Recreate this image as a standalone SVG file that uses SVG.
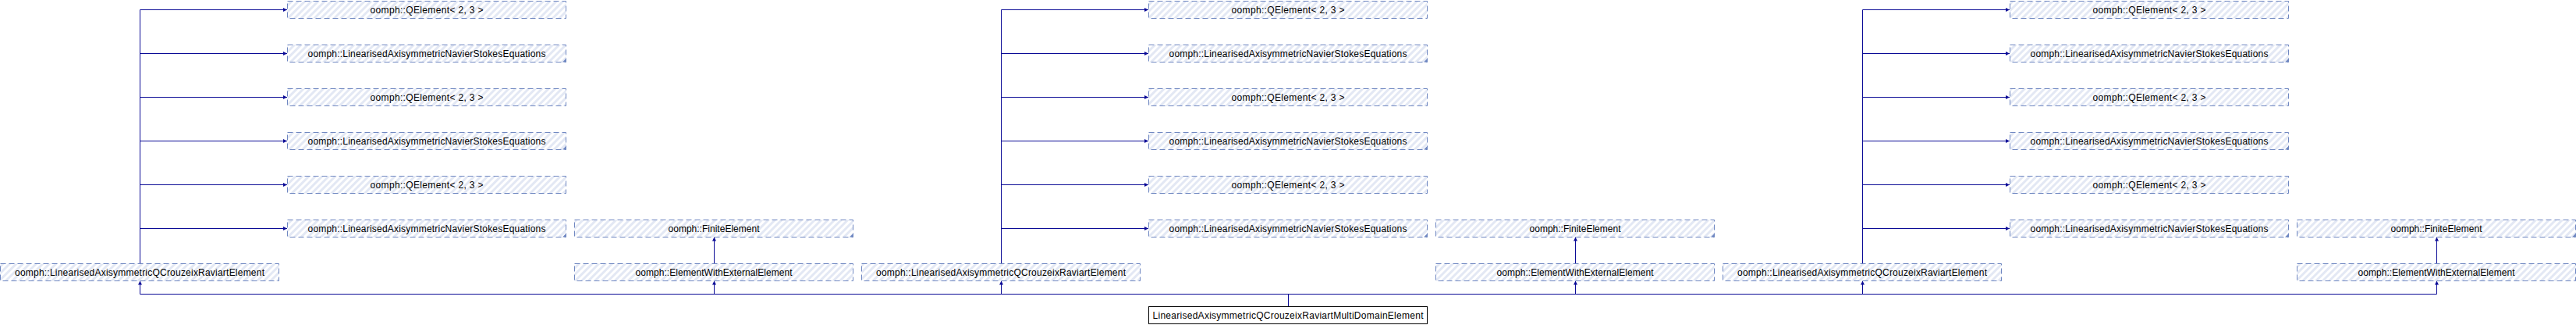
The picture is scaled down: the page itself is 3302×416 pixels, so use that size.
<svg xmlns="http://www.w3.org/2000/svg" width="3302" height="416" viewBox="0 0 3302 416">
<defs>
<pattern id="hatch" patternUnits="userSpaceOnUse" width="6" height="6" patternTransform="rotate(45)">
<rect x="0" y="0" width="6" height="6" fill="#ffffff"/>
<rect x="0" y="0" width="3" height="6" fill="#e3e8f4"/>
</pattern>
<marker id="arr" markerUnits="userSpaceOnUse" markerWidth="6" markerHeight="6" refX="5" refY="2.5" orient="auto">
<path d="M0,0 L5,2.5 L0,5 Z" fill="#0b0b96"/>
</marker>
</defs>
<style>
.n rect{fill:url(#hatch);stroke:#6f87c1;stroke-width:1;stroke-dasharray:7,4}
.n polygon{fill:#6f87c1}
.m rect{fill:#ffffff;stroke:#000000;stroke-width:1}
text{font-family:"Liberation Sans",Arial,Helvetica,sans-serif;font-size:12px;fill:#000000;text-anchor:middle}
.e path{fill:none;stroke:#0b0b96;stroke-width:1;marker-end:url(#arr)}
.e path.p{marker-end:none}
</style>
<g id="edges" class="e">
<path d="M179.5,337 V12.5 H368"/>
<path d="M179.5,337 V68.5 H368"/>
<path d="M179.5,337 V124.5 H368"/>
<path d="M179.5,337 V180.5 H368"/>
<path d="M179.5,337 V236.5 H368"/>
<path d="M179.5,337 V292.5 H368"/>
<path d="M1283.5,337 V12.5 H1472"/>
<path d="M1283.5,337 V68.5 H1472"/>
<path d="M1283.5,337 V124.5 H1472"/>
<path d="M1283.5,337 V180.5 H1472"/>
<path d="M1283.5,337 V236.5 H1472"/>
<path d="M1283.5,337 V292.5 H1472"/>
<path d="M2387.5,337 V12.5 H2576"/>
<path d="M2387.5,337 V68.5 H2576"/>
<path d="M2387.5,337 V124.5 H2576"/>
<path d="M2387.5,337 V180.5 H2576"/>
<path d="M2387.5,337 V236.5 H2576"/>
<path d="M2387.5,337 V292.5 H2576"/>
<path d="M915.5,337 V303.5"/>
<path d="M2019.5,337 V303.5"/>
<path d="M3123.5,337 V303.5"/>
<path d="M1651.5,392.5 V376.5 H179.5 V359.5"/>
<path d="M1651.5,392.5 V376.5 H915.5 V359.5"/>
<path d="M1651.5,392.5 V376.5 H1283.5 V359.5"/>
<path d="M1651.5,392.5 V376.5 H2019.5 V359.5"/>
<path d="M1651.5,392.5 V376.5 H2387.5 V359.5"/>
<path d="M1651.5,392.5 V376.5 H3123.5 V359.5"/>
</g>
<g id="g1_qcr" class="n"><rect x="0.5" y="337.5" width="357" height="22"/><text x="179" y="352.5" textLength="320" lengthAdjust="spacing">oomph::LinearisedAxisymmetricQCrouzeixRaviartElement</text></g>
<g id="g1_qe0" class="n"><rect x="368.5" y="1.5" width="357" height="22"/><text x="547" y="16.5" textLength="145" lengthAdjust="spacing">oomph::QElement&lt; 2, 3 &gt;</text></g>
<g id="g1_ns1" class="n"><rect x="368.5" y="57.5" width="357" height="22"/><polygon points="725.5,75 725.5,79.5 721,79.5"/><text x="547" y="72.5" textLength="305" lengthAdjust="spacing">oomph::LinearisedAxisymmetricNavierStokesEquations</text></g>
<g id="g1_qe2" class="n"><rect x="368.5" y="113.5" width="357" height="22"/><text x="547" y="128.5" textLength="145" lengthAdjust="spacing">oomph::QElement&lt; 2, 3 &gt;</text></g>
<g id="g1_ns3" class="n"><rect x="368.5" y="169.5" width="357" height="22"/><polygon points="725.5,187 725.5,191.5 721,191.5"/><text x="547" y="184.5" textLength="305" lengthAdjust="spacing">oomph::LinearisedAxisymmetricNavierStokesEquations</text></g>
<g id="g1_qe4" class="n"><rect x="368.5" y="225.5" width="357" height="22"/><text x="547" y="240.5" textLength="145" lengthAdjust="spacing">oomph::QElement&lt; 2, 3 &gt;</text></g>
<g id="g1_ns5" class="n"><rect x="368.5" y="281.5" width="357" height="22"/><polygon points="725.5,299 725.5,303.5 721,303.5"/><text x="547" y="296.5" textLength="305" lengthAdjust="spacing">oomph::LinearisedAxisymmetricNavierStokesEquations</text></g>
<g id="g1_fe" class="n"><rect x="736.5" y="281.5" width="357" height="22"/><polygon points="1093.5,299 1093.5,303.5 1089,303.5"/><text x="915" y="296.5" textLength="117" lengthAdjust="spacing">oomph::FiniteElement</text></g>
<g id="g1_ewee" class="n"><rect x="736.5" y="337.5" width="357" height="22"/><text x="915" y="352.5" textLength="201" lengthAdjust="spacing">oomph::ElementWithExternalElement</text></g>
<g id="g2_qcr" class="n"><rect x="1104.5" y="337.5" width="357" height="22"/><text x="1283" y="352.5" textLength="320" lengthAdjust="spacing">oomph::LinearisedAxisymmetricQCrouzeixRaviartElement</text></g>
<g id="g2_qe0" class="n"><rect x="1472.5" y="1.5" width="357" height="22"/><text x="1651" y="16.5" textLength="145" lengthAdjust="spacing">oomph::QElement&lt; 2, 3 &gt;</text></g>
<g id="g2_ns1" class="n"><rect x="1472.5" y="57.5" width="357" height="22"/><polygon points="1829.5,75 1829.5,79.5 1825,79.5"/><text x="1651" y="72.5" textLength="305" lengthAdjust="spacing">oomph::LinearisedAxisymmetricNavierStokesEquations</text></g>
<g id="g2_qe2" class="n"><rect x="1472.5" y="113.5" width="357" height="22"/><text x="1651" y="128.5" textLength="145" lengthAdjust="spacing">oomph::QElement&lt; 2, 3 &gt;</text></g>
<g id="g2_ns3" class="n"><rect x="1472.5" y="169.5" width="357" height="22"/><polygon points="1829.5,187 1829.5,191.5 1825,191.5"/><text x="1651" y="184.5" textLength="305" lengthAdjust="spacing">oomph::LinearisedAxisymmetricNavierStokesEquations</text></g>
<g id="g2_qe4" class="n"><rect x="1472.5" y="225.5" width="357" height="22"/><text x="1651" y="240.5" textLength="145" lengthAdjust="spacing">oomph::QElement&lt; 2, 3 &gt;</text></g>
<g id="g2_ns5" class="n"><rect x="1472.5" y="281.5" width="357" height="22"/><polygon points="1829.5,299 1829.5,303.5 1825,303.5"/><text x="1651" y="296.5" textLength="305" lengthAdjust="spacing">oomph::LinearisedAxisymmetricNavierStokesEquations</text></g>
<g id="g2_fe" class="n"><rect x="1840.5" y="281.5" width="357" height="22"/><polygon points="2197.5,299 2197.5,303.5 2193,303.5"/><text x="2019" y="296.5" textLength="117" lengthAdjust="spacing">oomph::FiniteElement</text></g>
<g id="g2_ewee" class="n"><rect x="1840.5" y="337.5" width="357" height="22"/><text x="2019" y="352.5" textLength="201" lengthAdjust="spacing">oomph::ElementWithExternalElement</text></g>
<g id="g3_qcr" class="n"><rect x="2208.5" y="337.5" width="357" height="22"/><text x="2387" y="352.5" textLength="320" lengthAdjust="spacing">oomph::LinearisedAxisymmetricQCrouzeixRaviartElement</text></g>
<g id="g3_qe0" class="n"><rect x="2576.5" y="1.5" width="357" height="22"/><text x="2755" y="16.5" textLength="145" lengthAdjust="spacing">oomph::QElement&lt; 2, 3 &gt;</text></g>
<g id="g3_ns1" class="n"><rect x="2576.5" y="57.5" width="357" height="22"/><polygon points="2933.5,75 2933.5,79.5 2929,79.5"/><text x="2755" y="72.5" textLength="305" lengthAdjust="spacing">oomph::LinearisedAxisymmetricNavierStokesEquations</text></g>
<g id="g3_qe2" class="n"><rect x="2576.5" y="113.5" width="357" height="22"/><text x="2755" y="128.5" textLength="145" lengthAdjust="spacing">oomph::QElement&lt; 2, 3 &gt;</text></g>
<g id="g3_ns3" class="n"><rect x="2576.5" y="169.5" width="357" height="22"/><polygon points="2933.5,187 2933.5,191.5 2929,191.5"/><text x="2755" y="184.5" textLength="305" lengthAdjust="spacing">oomph::LinearisedAxisymmetricNavierStokesEquations</text></g>
<g id="g3_qe4" class="n"><rect x="2576.5" y="225.5" width="357" height="22"/><text x="2755" y="240.5" textLength="145" lengthAdjust="spacing">oomph::QElement&lt; 2, 3 &gt;</text></g>
<g id="g3_ns5" class="n"><rect x="2576.5" y="281.5" width="357" height="22"/><polygon points="2933.5,299 2933.5,303.5 2929,303.5"/><text x="2755" y="296.5" textLength="305" lengthAdjust="spacing">oomph::LinearisedAxisymmetricNavierStokesEquations</text></g>
<g id="g3_fe" class="n"><rect x="2944.5" y="281.5" width="357" height="22"/><polygon points="3301.5,299 3301.5,303.5 3297,303.5"/><text x="3123" y="296.5" textLength="117" lengthAdjust="spacing">oomph::FiniteElement</text></g>
<g id="g3_ewee" class="n"><rect x="2944.5" y="337.5" width="357" height="22"/><text x="3123" y="352.5" textLength="201" lengthAdjust="spacing">oomph::ElementWithExternalElement</text></g>
<g id="main" class="m"><rect x="1472.5" y="392.5" width="357" height="22"/><text x="1651" y="407.5" textLength="347" lengthAdjust="spacing">LinearisedAxisymmetricQCrouzeixRaviartMultiDomainElement</text></g>
</svg>
